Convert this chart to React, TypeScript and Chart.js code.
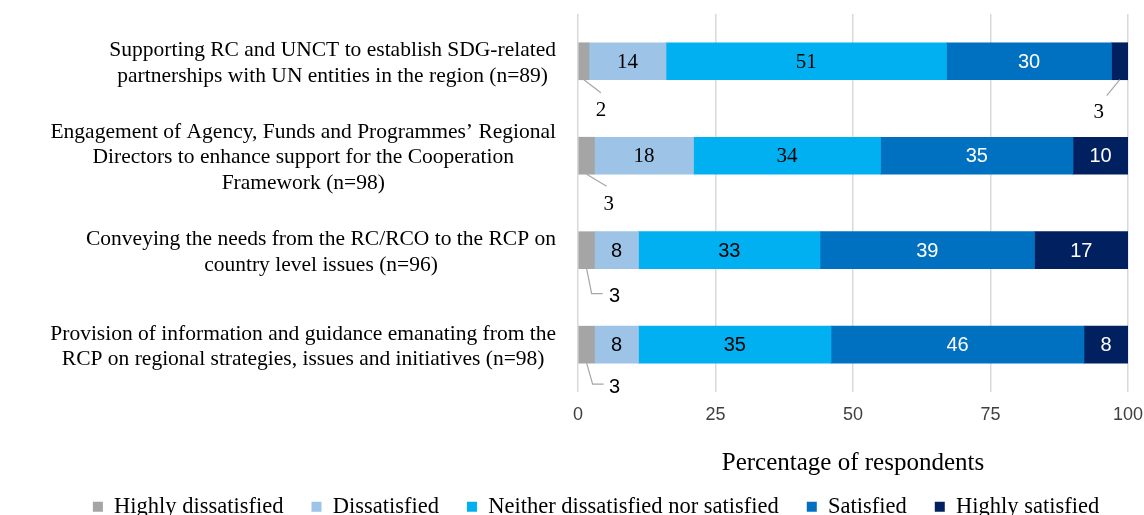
import React, { useEffect, useRef } from "react";
import { Chart, registerables } from "chart.js";

Chart.register(...registerables);

const categories: string[][] = [
  ["Supporting RC and UNCT to establish SDG-related", "partnerships with UN entities in the region (n=89)"],
  ["Engagement of Agency, Funds and Programmes\u2019 Regional", "Directors to enhance support for the Cooperation", "Framework (n=98)"],
  ["Conveying the needs from the RC/RCO to the RCP on", "country level issues (n=96)"],
  ["Provision of information and guidance emanating from the", "RCP on regional strategies, issues and initiatives (n=98)"],
];

const seriesNames = [
  "Highly dissatisfied",
  "Dissatisfied",
  "Neither dissatisfied nor satisfied",
  "Satisfied",
  "Highly satisfied",
];

const highlyDissatisfied = [2, 3, 3, 3];
const dissatisfied = [14, 18, 8, 8];
const neither = [51, 34, 33, 35];
const satisfied = [30, 35, 39, 46];
const highlySatisfied = [3, 10, 17, 8];

const xTicks = [0, 25, 50, 75, 100];

const colors = ["#A5A5A5", "#9DC3E6", "#00B0F0", "#0070C0", "#002060"];
const labelColors = ["#000000", "#000000", "#000000", "#FFFFFF", "#FFFFFF"];

const SERIF = "'Liberation Serif', 'Times New Roman', serif";
const SANS = "'Liberation Sans Narrow', 'Liberation Sans', Arial, sans-serif";

// callout styles for small segments
const callouts: { ds: number; row: number; kind: string }[] = [
  { ds: 0, row: 0, kind: "diagRight" },
  { ds: 0, row: 1, kind: "diagRight2" },
  { ds: 0, row: 2, kind: "elbow" },
  { ds: 0, row: 3, kind: "elbow2" },
  { ds: 4, row: 0, kind: "diagLeft" },
];

const labelsPlugin = {
  id: "customLabels",
  afterDraw(chart: any) {
    const ctx = chart.ctx;
    const yScale = chart.scales.y;
    // category labels
    ctx.save();
    ctx.font = `21.5px ${SERIF}`;
    ctx.fillStyle = "#000";
    ctx.textAlign = "center";
    ctx.textBaseline = "middle";
    const lh = 25.5;
    categories.forEach((lines, i) => {
      const cy = yScale.getPixelForValue(i) + 2;
      let widest = 0;
      lines.forEach((l) => (widest = Math.max(widest, ctx.measureText(l).width)));
      const right = yScale.right - 22;
      const cx = right - widest / 2;
      lines.forEach((l, k) => {
        ctx.fillText(l, cx, cy + (k - (lines.length - 1) / 2) * lh);
      });
    });
    ctx.restore();

    // data labels
    chart.data.datasets.forEach((ds: any, di: number) => {
      const meta = chart.getDatasetMeta(di);
      meta.data.forEach((el: any, ri: number) => {
        const p = el.getProps(["x", "base", "y", "height"], true);
        const v = ds.data[ri];
        const cx = (p.x + p.base) / 2;
        const bottom = p.y + p.height / 2;
        const co = callouts.find((c) => c.ds === di && c.row === ri);
        ctx.save();
        ctx.textAlign = "center";
        ctx.textBaseline = "middle";
        if (co) {
          ctx.strokeStyle = "#A6A6A6";
          ctx.lineWidth = 1.2;
          ctx.fillStyle = "#000";
          ctx.font = ri < 2 ? `21px ${SERIF}` : `20px ${SANS}`;
          ctx.beginPath();
          let lx = cx, ly = bottom;
          if (co.kind === "diagRight") {
            ctx.moveTo(cx, bottom); ctx.lineTo(cx + 17, bottom + 13);
            lx = cx + 17; ly = bottom + 31;
          } else if (co.kind === "diagRight2") {
            ctx.moveTo(cx, bottom); ctx.lineTo(cx + 20, bottom + 12);
            lx = cx + 22; ly = bottom + 30;
          } else if (co.kind === "elbow") {
            ctx.moveTo(cx, bottom); ctx.lineTo(cx + 5, bottom + 25); ctx.lineTo(cx + 16, bottom + 25);
            lx = cx + 28; ly = bottom + 28;
          } else if (co.kind === "elbow2") {
            ctx.moveTo(cx, bottom); ctx.lineTo(cx + 6, bottom + 21); ctx.lineTo(cx + 17, bottom + 21);
            lx = cx + 28; ly = bottom + 24;
          } else if (co.kind === "diagLeft") {
            ctx.moveTo(cx, bottom); ctx.lineTo(cx - 13, bottom + 16);
            lx = cx - 21; ly = bottom + 33;
          }
          ctx.stroke();
          ctx.fillText(String(v), lx, ly);
        } else {
          const serif = ri < 2 && di < 3;
          ctx.font = serif ? `21px ${SERIF}` : `20px ${SANS}`;
          ctx.fillStyle = labelColors[di];
          ctx.fillText(String(v), cx, p.y + 1);
        }
        ctx.restore();
      });
    });
  },
};

export default function App() {
  const ref = useRef<HTMLCanvasElement | null>(null);
  useEffect(() => {
    document.body.style.margin = "0";
    const data = [highlyDissatisfied, dissatisfied, neither, satisfied, highlySatisfied];
    const chart = new Chart(ref.current as HTMLCanvasElement, {
      type: "bar",
      data: {
        labels: categories.map((c) => c.join(" ")),
        datasets: data.map((d, i) => ({
          label: seriesNames[i],
          data: d,
          backgroundColor: colors[i],
          borderWidth: 0,
          barThickness: 37,
        })),
      },
      options: {
        indexAxis: "y",
        animation: false,
        responsive: false,
        maintainAspectRatio: false,
        layout: { padding: { top: 14, right: 0, left: 48, bottom: 0 } },
        scales: {
          x: {
            stacked: true,
            min: 0,
            max: 100,
            afterBuildTicks: (scale: any) => {
              scale.ticks = xTicks.map((v) => ({ value: v }));
            },
            afterFit: (scale: any) => {
              scale.paddingRight = 16;
            },
            grid: { color: "#D9D9D9", lineWidth: 1.5, drawTicks: false },
            border: { display: false },
            ticks: {
              padding: 12,
              color: "#404040",
              font: { size: 18, family: SANS },
            },
            title: {
              display: true,
              text: "Percentage of respondents",
              color: "#000",
              font: { size: 25, family: SERIF },
              padding: { top: 11, bottom: -11 },
            },
          },
          y: {
            stacked: true,
            grid: { display: false },
            border: { display: false },
            ticks: { display: false },
            afterFit: (scale: any) => {
              scale.width = 530;
            },
          },
        },
        plugins: {
          legend: {
            position: "bottom",
            labels: {
              boxWidth: 10,
              boxHeight: 10,
              color: "#000",
              padding: 28,
              font: { size: 22.5, family: SERIF },
            },
          },
          tooltip: { enabled: false },
        },
      },
      plugins: [labelsPlugin],
    } as any);
    return () => chart.destroy();
  }, []);
  return (
    <div style={{ width: 1144, height: 515, overflow: "hidden", background: "#fff" }}>
      <canvas ref={ref} width={1144} height={528} style={{ display: "block" }} />
    </div>
  );
}
